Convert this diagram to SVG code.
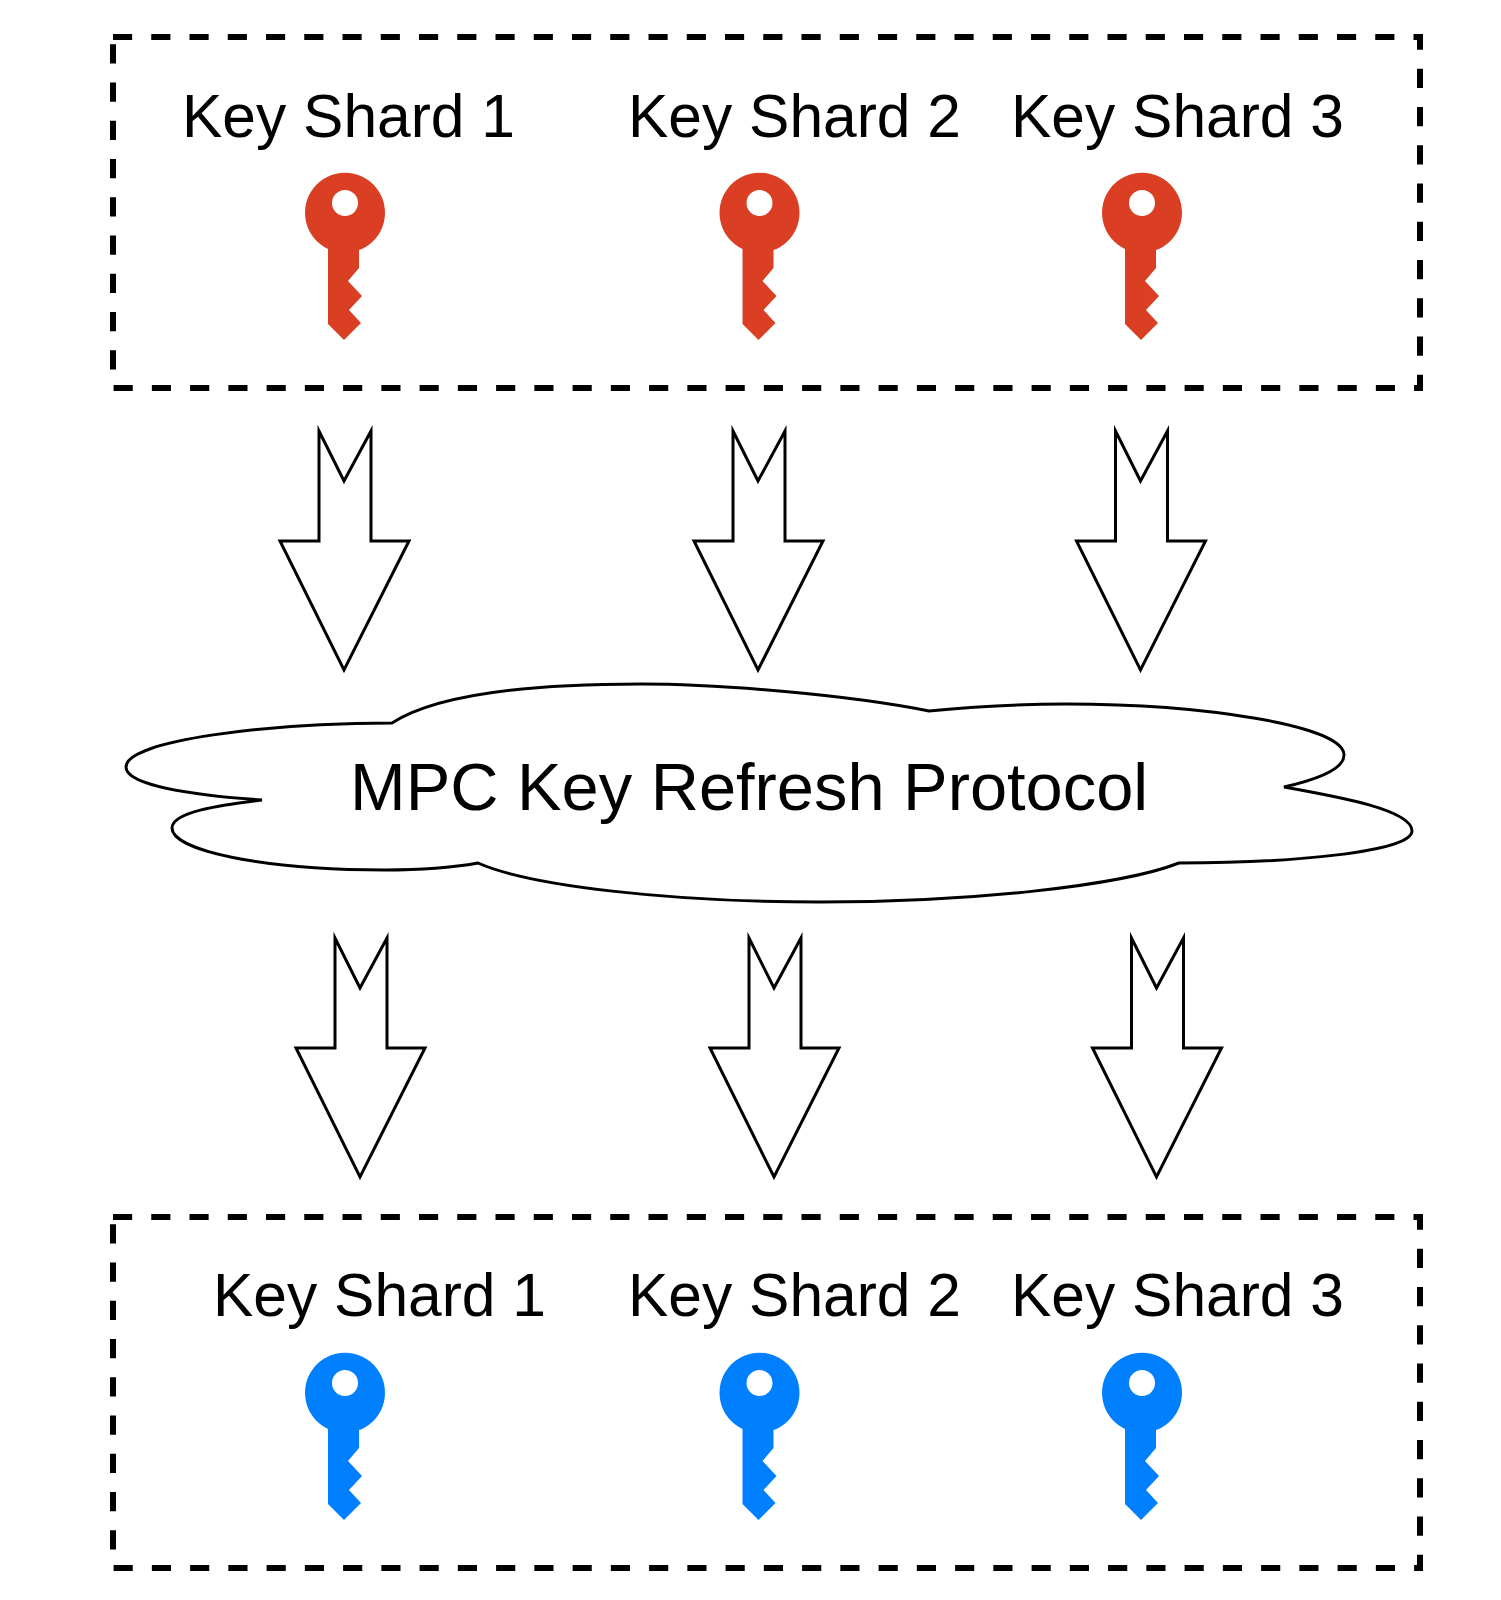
<svg xmlns="http://www.w3.org/2000/svg" width="1501" height="1600" viewBox="0 0 1501 1600">
<style>
text{font-family:"Liberation Sans",Arial,sans-serif;fill:#000}
.l{font-size:60.5px}
.box{fill:none;stroke:#000;stroke-width:6;stroke-dasharray:19.15 19.1}
.arrow{fill:#fff;stroke:#000;stroke-width:3;stroke-miterlimit:10}
.red{fill:#da3f23}
.blue{fill:#007fff}
</style>
<defs>
<path id="key" fill-rule="evenodd" d="M15 37V55L4 68L18 83L5 97L17 110L0 127L-16 111V36A40 40 0 1 1 18 36ZM1 -23A13 13 0 1 0 1 3A13 13 0 1 0 1 -23Z"/>
<path id="arr" class="arrow" d="M-25 2L0 52L27 2V112H65L0 241L-64 112H-25Z"/>
</defs>
<rect width="1501" height="1600" fill="#fff"/>
<g id="top-box"><rect class="box" x="113" y="37" width="1307" height="351"/></g>
<g id="bottom-box"><rect class="box" x="113" y="1217" width="1307" height="351"/></g>
<g id="top-shard-1"><text class="l" x="182" y="137">Key Shard 1</text><use href="#key" class="red" x="344" y="213"/></g>
<g id="top-shard-2"><text class="l" x="628" y="137">Key Shard 2</text><use href="#key" class="red" x="758.5" y="213"/></g>
<g id="top-shard-3"><text class="l" x="1011" y="137">Key Shard 3</text><use href="#key" class="red" x="1141" y="213"/></g>
<g id="bottom-shard-1"><text class="l" x="213" y="1316">Key Shard 1</text><use href="#key" class="blue" x="344" y="1393"/></g>
<g id="bottom-shard-2"><text class="l" x="628" y="1316">Key Shard 2</text><use href="#key" class="blue" x="758.5" y="1393"/></g>
<g id="bottom-shard-3"><text class="l" x="1011" y="1316">Key Shard 3</text><use href="#key" class="blue" x="1141" y="1393"/></g>
<g id="cloud">
<path fill="#fff" stroke="#000" stroke-width="3" d="M392 723C440 692 540 684 640 684C720 684 850 695 929 711C980 706 1030 704 1066 704C1200 704 1344 725 1344 755C1344 770 1315 780 1284 787C1340 797 1412 810 1412 831C1412 852 1290 863 1179 863C1120 886 970 902 820 902C670 902 530 886 478 863C450 868 420 870 385 870C260 870 172 850 172 828C172 812 220 805 262 800C190 795 126 785 126 767C126 740 270 723 392 723Z"/>
<text x="350" y="810" font-size="66.8">MPC Key Refresh Protocol</text>
</g>
<g id="connectors">
<use href="#arr" x="344" y="429"/><use href="#arr" x="758" y="429"/><use href="#arr" x="1140.5" y="429"/>
<use href="#arr" x="360" y="936"/><use href="#arr" x="774" y="936"/><use href="#arr" x="1156.5" y="936"/>
</g>
</svg>
